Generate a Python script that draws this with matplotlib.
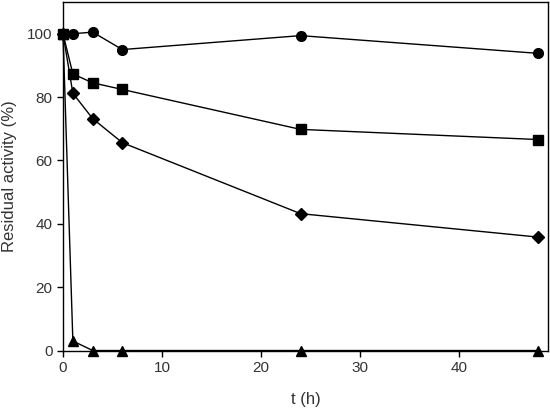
import numpy as np
import matplotlib.pyplot as plt

plt.rcParams['font.family'] = ['Liberation Sans', 'DejaVu Sans']

# residual activity over time
t = [0, 1, 3, 6, 24, 48]
circles = [100, 100, 100.5, 95, 99.4, 93.8]
squares = [100, 87.3, 84.5, 82.4, 69.8, 66.6]
diamonds = [100, 81.2, 73.2, 65.6, 43.2, 35.8]
triangles = [100, 3.0, 0, 0, 0, 0]

fig = plt.figure(figsize=(5.5, 4.09), dpi=100)
ax = fig.add_axes([0.1145, 0.143, 0.882, 0.852])

ax.plot(t, circles, color='black', marker='o', markersize=7, linewidth=1, clip_on=False)
ax.plot(t, squares, color='black', marker='s', markersize=6.5, linewidth=1, clip_on=False)
ax.plot(t, diamonds, color='black', marker='D', markersize=6, linewidth=1, clip_on=False)
ax.plot(t, triangles, color='black', marker='^', markersize=7, linewidth=1, clip_on=False, zorder=5)

ax.set_xlim(0, 49)
ax.set_ylim(0, 110)
ax.set_xticks([0, 10, 20, 30, 40])
ax.set_yticks([0, 20, 40, 60, 80, 100])
ax.tick_params(direction='out', length=4, width=1, labelsize=11, labelcolor='#333333')
for s in ax.spines.values():
    s.set_linewidth(1)

ax.set_xlabel('t (h)', fontsize=12, color='#333333', labelpad=12)
ax.set_ylabel('Residual activity (%)', fontsize=12, color='#333333', labelpad=7)

fig.savefig('out.png', dpi=100)
